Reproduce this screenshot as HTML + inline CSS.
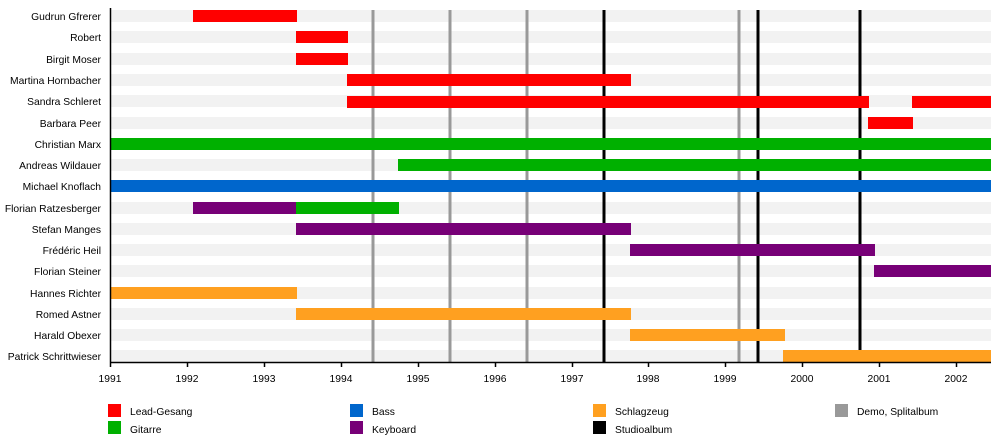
<!DOCTYPE html>
<html><head><meta charset="utf-8"><style>
body{margin:0;background:#fff}
text{font-family:"Liberation Sans",sans-serif;font-size:10.3px;fill:#000}
</style></head><body>
<svg width="1000" height="442" xmlns="http://www.w3.org/2000/svg">
<g fill="#f2f2f2">
<rect x="110" y="10" width="881" height="12"/><rect x="110" y="31" width="881" height="12"/><rect x="110" y="53" width="881" height="12"/><rect x="110" y="74" width="881" height="12"/><rect x="110" y="95" width="881" height="12"/><rect x="110" y="117" width="881" height="12"/><rect x="110" y="138" width="881" height="12"/><rect x="110" y="159" width="881" height="12"/><rect x="110" y="180" width="881" height="12"/><rect x="110" y="202" width="881" height="12"/><rect x="110" y="223" width="881" height="12"/><rect x="110" y="244" width="881" height="12"/><rect x="110" y="265" width="881" height="12"/><rect x="110" y="287" width="881" height="12"/><rect x="110" y="308" width="881" height="12"/><rect x="110" y="329" width="881" height="12"/><rect x="110" y="350" width="881" height="12"/>
</g>
<g stroke="#999" stroke-width="3"><line x1="373" y1="10" x2="373" y2="362"/><line x1="450" y1="10" x2="450" y2="362"/><line x1="527" y1="10" x2="527" y2="362"/><line x1="739" y1="10" x2="739" y2="362"/></g>
<g stroke="#000" stroke-width="3"><line x1="604" y1="10" x2="604" y2="362"/><line x1="758" y1="10" x2="758" y2="362"/><line x1="860" y1="10" x2="860" y2="362"/></g>
<g fill="#ff0000">
<rect x="193" y="10" width="104" height="12"/><rect x="296" y="31" width="52" height="12"/><rect x="296" y="53" width="52" height="12"/><rect x="347" y="74" width="284" height="12"/><rect x="347" y="96" width="522" height="12"/><rect x="912" y="96" width="79" height="12"/><rect x="868" y="117" width="45" height="12"/>
</g>
<g fill="#00b000"><rect x="110" y="138" width="881" height="12"/><rect x="398" y="159" width="593" height="12"/><rect x="296" y="202" width="103" height="12"/></g>
<rect x="110" y="180" width="881" height="12" fill="#0066cc"/>
<g fill="#770077"><rect x="193" y="202" width="103" height="12"/><rect x="296" y="223" width="335" height="12"/><rect x="630" y="244" width="245" height="12"/><rect x="874" y="265" width="117" height="12"/></g>
<g fill="#ffa020"><rect x="110" y="287" width="187" height="12"/><rect x="296" y="308" width="335" height="12"/><rect x="630" y="329" width="155" height="12"/><rect x="783" y="350" width="208" height="12"/></g>
<g stroke="#000" stroke-width="1.5"><line x1="110.5" y1="8" x2="110.5" y2="362"/><line x1="110" y1="362.5" x2="991" y2="362.5"/>
<line x1="110.5" y1="362" x2="110.5" y2="367"/><line x1="187.5" y1="362" x2="187.5" y2="367"/><line x1="264.5" y1="362" x2="264.5" y2="367"/><line x1="341.5" y1="362" x2="341.5" y2="367"/><line x1="418.5" y1="362" x2="418.5" y2="367"/><line x1="495.5" y1="362" x2="495.5" y2="367"/><line x1="572.5" y1="362" x2="572.5" y2="367"/><line x1="648.5" y1="362" x2="648.5" y2="367"/><line x1="725.5" y1="362" x2="725.5" y2="367"/><line x1="802.5" y1="362" x2="802.5" y2="367"/><line x1="879.5" y1="362" x2="879.5" y2="367"/><line x1="956.5" y1="362" x2="956.5" y2="367"/></g>
<g text-anchor="middle"><text x="110" y="382">1991</text><text x="187" y="382">1992</text><text x="264" y="382">1993</text><text x="341" y="382">1994</text><text x="418" y="382">1995</text><text x="495" y="382">1996</text><text x="572" y="382">1997</text><text x="648" y="382">1998</text><text x="725" y="382">1999</text><text x="802" y="382">2000</text><text x="879" y="382">2001</text><text x="956" y="382">2002</text></g>
<g text-anchor="end">
<text x="101" y="20">Gudrun Gfrerer</text><text x="101" y="41">Robert</text><text x="101" y="63">Birgit Moser</text><text x="101" y="84">Martina Hornbacher</text><text x="101" y="105">Sandra Schleret</text><text x="101" y="127">Barbara Peer</text><text x="101" y="148">Christian Marx</text><text x="101" y="169">Andreas Wildauer</text><text x="101" y="190">Michael Knoflach</text><text x="101" y="212">Florian Ratzesberger</text><text x="101" y="233">Stefan Manges</text><text x="101" y="254">Frédéric Heil</text><text x="101" y="275">Florian Steiner</text><text x="101" y="297">Hannes Richter</text><text x="101" y="318">Romed Astner</text><text x="101" y="339">Harald Obexer</text><text x="101" y="360">Patrick Schrittwieser</text>
</g>
<rect x="108" y="404" width="13" height="13" fill="#ff0000"/><text x="130" y="415">Lead-Gesang</text>
<rect x="108" y="421" width="13" height="13" fill="#00b000"/><text x="130" y="433">Gitarre</text>
<rect x="350" y="404" width="13" height="13" fill="#0066cc"/><text x="372" y="415">Bass</text>
<rect x="350" y="421" width="13" height="13" fill="#770077"/><text x="372" y="433">Keyboard</text>
<rect x="593" y="404" width="13" height="13" fill="#ffa020"/><text x="615" y="415">Schlagzeug</text>
<rect x="593" y="421" width="13" height="13" fill="#000"/><text x="615" y="433">Studioalbum</text>
<rect x="835" y="404" width="13" height="13" fill="#999"/><text x="857" y="415">Demo, Splitalbum</text>
</svg>
</body></html>
